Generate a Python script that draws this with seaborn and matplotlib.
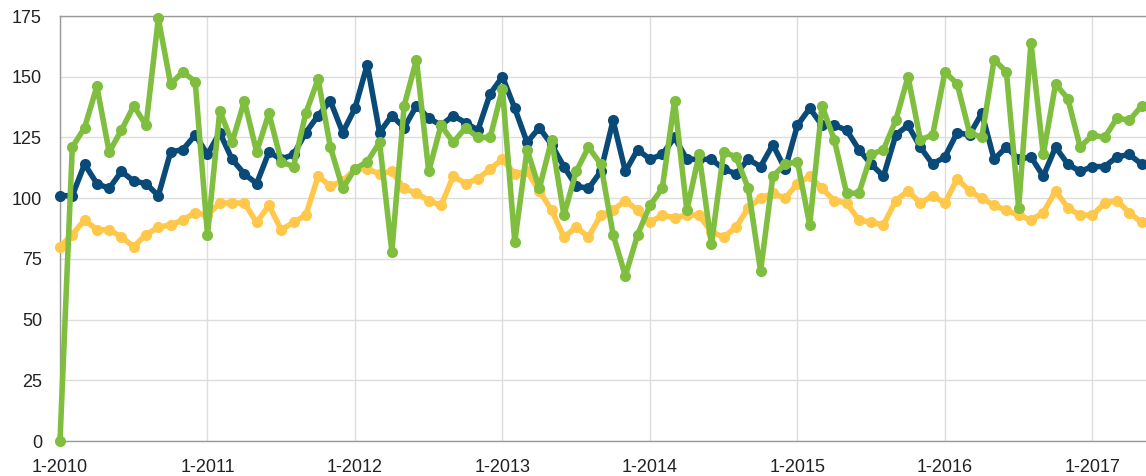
import numpy as np
import pandas as pd
import matplotlib
matplotlib.use('Agg')
import matplotlib.pyplot as plt
import seaborn as sns

# monthly values, 1-2010 .. 5-2017
blue = [101, 101, 114, 106, 104, 111, 107, 106, 101, 119, 120, 126,
        118, 127, 116, 110, 106, 119, 116, 118, 127, 134, 140, 127,
        137, 155, 127, 134, 129, 138, 133, 130, 134, 131, 128, 143,
        150, 137, 123, 129, 122, 113, 105, 104, 111, 132, 111, 120,
        116, 118, 125, 116, 116, 116, 112, 110, 116, 113, 122, 112,
        130, 137, 130, 130, 128, 120, 114, 109, 126, 130, 121, 114,
        117, 127, 126, 135, 116, 121, 116, 117, 109, 121, 114, 111,
        113, 113, 117, 118, 114]
green = [0, 121, 129, 146, 119, 128, 138, 130, 174, 147, 152, 148,
         85, 136, 123, 140, 119, 135, 115, 113, 135, 149, 121, 104,
         112, 115, 123, 78, 138, 157, 111, 130, 123, 129, 125, 125,
         145, 82, 120, 104, 124, 93, 111, 121, 114, 85, 68, 85,
         97, 104, 140, 95, 118, 81, 119, 117, 104, 70, 109, 114,
         115, 89, 138, 124, 102, 102, 118, 120, 132, 150, 124, 126,
         152, 147, 127, 125, 157, 152, 96, 164, 118, 147, 141, 121,
         126, 125, 133, 132, 138]
yellow = [80, 85, 91, 87, 87, 84, 80, 85, 88, 89, 91, 94,
          93, 98, 98, 98, 90, 97, 87, 90, 93, 109, 105, 107,
          112, 112, 110, 111, 104, 102, 99, 97, 109, 106, 108, 112,
          116, 110, 111, 103, 95, 84, 88, 84, 93, 95, 99, 95,
          90, 93, 92, 93, 93, 86, 84, 88, 96, 100, 102, 100,
          106, 109, 104, 99, 98, 91, 90, 89, 99, 103, 98, 101,
          98, 108, 103, 100, 97, 95, 93, 91, 94, 103, 96, 93,
          93, 98, 99, 94, 90]
years = list(range(2010, 2018))
tick_labels = [f'1-{y}' for y in years]

n = len(blue)
df = pd.DataFrame({
    'month': list(range(n)) * 3,
    'value': yellow + blue + green,
    'series': ['yellow'] * n + ['blue'] * n + ['green'] * n,
})
palette = {'yellow': '#FFC84A', 'blue': '#0A4A78', 'green': '#7FBE3F'}

sns.set_style('white')
plt.rcParams['font.family'] = ['Liberation Sans', 'DejaVu Sans']

fig = plt.figure(figsize=(11.46, 4.76), dpi=100)
ax = fig.add_axes([60 / 1146, 35 / 476, 1086 / 1146, 425 / 476])

sns.lineplot(data=df, x='month', y='value', hue='series', palette=palette,
             hue_order=['yellow', 'blue', 'green'], marker='o', markersize=8,
             markeredgewidth=0, linewidth=4, legend=False, ax=ax, zorder=3)
for line in ax.lines:
    line.set_clip_on(False)
    line.set_solid_joinstyle('round')

ax.set_xlim(0, 88.36)
ax.set_ylim(0, 175)
ax.set_yticks(np.arange(0, 176, 25))
ax.set_xticks(np.arange(0, 85, 12))
ax.set_xticklabels(tick_labels)
ax.grid(True, color='#dddddd', linewidth=1, zorder=0)
ax.set_axisbelow(True)
ax.tick_params(axis='y', length=0, pad=13, labelsize=13, labelcolor='#222222')
ax.tick_params(axis='x', length=6, color='#cccccc', pad=7, labelsize=13,
               labelcolor='#222222')
for s in ['left', 'bottom', 'top']:
    ax.spines[s].set_visible(True)
    ax.spines[s].set_color('#999999')
    ax.spines[s].set_linewidth(1)
ax.spines['right'].set_visible(False)
ax.set_xlabel('')
ax.set_ylabel('')

fig.savefig('out.png', dpi=100)
